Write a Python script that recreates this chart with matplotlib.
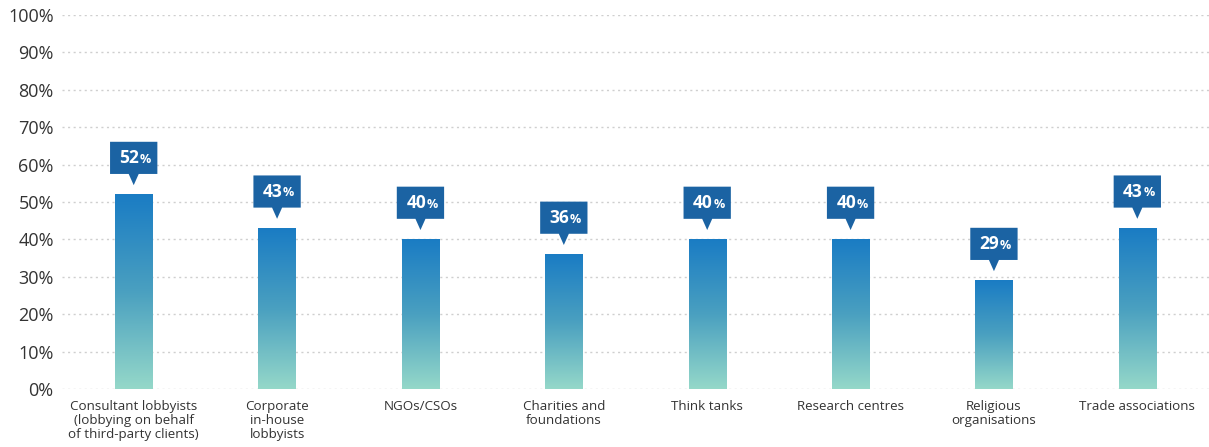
import numpy as np
import matplotlib.pyplot as plt
from matplotlib.colors import LinearSegmentedColormap
from matplotlib.patches import Polygon
from matplotlib.transforms import offset_copy

plt.rcParams['font.family'] = ['Open Sans', 'DejaVu Sans']

categories = ['Consultant lobbyists\n(lobbying on behalf\nof third-party clients)',
              'Corporate\nin-house\nlobbyists',
              'NGOs/CSOs',
              'Charities and\nfoundations',
              'Think tanks',
              'Research centres',
              'Religious\norganisations',
              'Trade associations']
values = [52, 43, 40, 36, 40, 40, 29, 43]
ytick_values = list(range(0, 101, 10))

bar_width = 0.26
box_width = 0.33
box_height = 8.6
box_gap = 5.5       # from bar top to box bottom
pointer_len = 3.0
box_color = '#1b63a3'

grad_cmap = LinearSegmentedColormap.from_list('bar_grad', ['#95d8c9', '#4aa0c0', '#1a7cc4'])
gradient = np.linspace(0, 1, 256).reshape(-1, 1)

fig = plt.figure(figsize=(12.09, 4.47), dpi=100)
ax = fig.add_axes([0.0513, 0.1298, 0.9487, 0.8366])

x = np.arange(len(categories))
for xi, v in zip(x, values):
    # gradient-filled bar
    ax.imshow(gradient, cmap=grad_cmap, origin='lower', aspect='auto',
              extent=[xi - bar_width / 2, xi + bar_width / 2, 0, v], zorder=3,
              interpolation='bicubic')

    # value callout with a downward pointer
    b0 = v + box_gap
    ax.add_patch(Polygon([[xi - box_width / 2, b0], [xi - 0.035, b0],
                          [xi, b0 - pointer_len], [xi + 0.035, b0],
                          [xi + box_width / 2, b0], [xi + box_width / 2, b0 + box_height],
                          [xi - box_width / 2, b0 + box_height]],
                         closed=True, facecolor=box_color, edgecolor='none', zorder=4))
    yc = b0 + box_height / 2
    t_num = offset_copy(ax.transData, fig=fig, x=4, y=0, units='points')
    ax.text(xi, yc, f'{v}', transform=t_num, ha='right', va='center',
            color='white', fontsize=12.5, fontweight='bold', zorder=5)
    t_pct = offset_copy(ax.transData, fig=fig, x=4.3, y=-1.0, units='points')
    ax.text(xi, yc, '%', transform=t_pct, ha='left', va='center',
            color='white', fontsize=9, fontweight='bold', zorder=5)

ax.set_xlim(-0.5, len(categories) - 0.5)
ax.set_ylim(0, 100)
ax.set_yticks(ytick_values)
ax.set_yticklabels([f'{t}%' for t in ytick_values], fontsize=13, color='#333333')
ax.set_xticks(x)
ax.set_xticklabels(categories, fontsize=9.6, color='#333333', linespacing=1.12)
ax.tick_params(axis='both', length=0)
ax.tick_params(axis='y', pad=6)
ax.tick_params(axis='x', pad=8)

for spine in ax.spines.values():
    spine.set_visible(False)

ax.set_axisbelow(True)
ax.yaxis.grid(True, color='#cfcfcf', linestyle=(0, (1.5, 2.5)), linewidth=1)
ax.xaxis.grid(False)

fig.savefig('out.png', dpi=100)
